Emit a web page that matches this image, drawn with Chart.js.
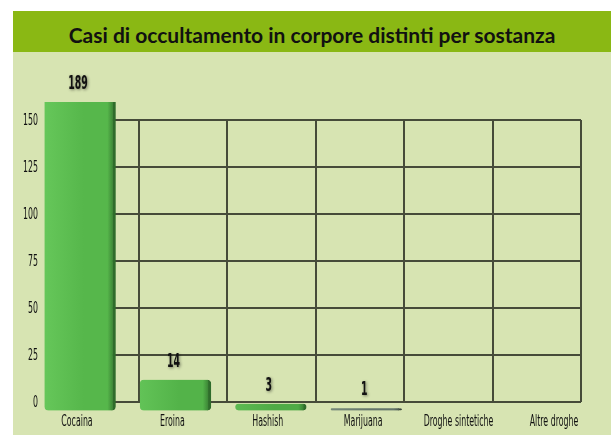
<!DOCTYPE html>
<html>
<head>
<meta charset="utf-8">
<script src="https://cdn.jsdelivr.net/npm/chart.js@4.4.1/dist/chart.umd.min.js"></script>
<style>
  html, body { margin: 0; padding: 0; background: #ffffff; }
  #wrap { position: relative; width: 611px; height: 435px; overflow: hidden; }
  #panel { position: absolute; left: 13px; top: 11px; width: 598px; height: 424px; background: #d7e4b2; }
  #title { position: absolute; left: 13px; top: 11px; width: 598px; height: 41px; background: #8ab814;
           font-family: Lato, 'Open Sans', sans-serif; font-weight: bold; font-size: 21px; color: #111;
           text-align: center; line-height: 41px; padding-top: 3px; box-sizing: border-box; white-space: nowrap; }
  #c { position: absolute; left: 0; top: 0; }
</style>
</head>
<body>
<div id="wrap">
  <div id="panel"></div>
  <div id="title">Casi di occultamento in corpore distinti per sostanza</div>
  <canvas id="c" width="611" height="435"></canvas>
</div>
<script>
const categories = ['Cocaina', 'Eroina', 'Hashish', 'Marijuana', 'Droghe sintetiche', 'Altre droghe'];
const values = [189, 14, 3, 1, 0, 0];
const yTicks = [0, 25, 50, 75, 100, 125, 150];
const gridColumns = [0, 1, 2, 3, 4, 5, 6];
const barLightColors = ['#66c75a', '#62c357', '#5cbb52', '#75887a', '#62c357', '#62c357'];
const barColors = ['#56b74b', '#53b349', '#4fab46', '#63756a', '#53b349', '#53b349'];
const barEdgeColors = ['#2f6c2b', '#2f6c2b', '#2f6c2b', '#39463b', '#2f6c2b', '#2f6c2b'];

const condensed = "'DejaVu Sans Condensed', 'DejaVu Sans', sans-serif";

// draws text squeezed horizontally to mimic the very narrow face of the original
function squeezedText(ctx, text, x, y, sx) {
  ctx.save();
  ctx.translate(x, y);
  ctx.scale(sx, 1);
  ctx.fillText(text, 0, 0);
  ctx.restore();
}

const narrowLabels = {
  id: 'narrowLabels',
  afterDraw(chart) {
    const ctx = chart.ctx;
    const xs = chart.scales.x, ys = chart.scales.y;
    ctx.save();
    ctx.fillStyle = '#111';
    ctx.textBaseline = 'middle';
    ctx.font = '16px ' + condensed;
    ctx.textAlign = 'center';
    xs.ticks.forEach(t => {
      squeezedText(ctx, categories[t.value], xs.getPixelForValue(t.value) - 3, xs.top + 19.5, 0.545);
    });
    ctx.textAlign = 'right';
    ys.ticks.forEach(t => {
      squeezedText(ctx, String(t.value), ys.right - 12, ys.getPixelForValue(t.value) + 1, 0.545);
    });
    ctx.restore();
  }
};

const valueLabels = {
  id: 'valueLabels',
  afterDatasetsDraw(chart) {
    const ctx = chart.ctx;
    const meta = chart.getDatasetMeta(0);
    const area = chart.chartArea;
    ctx.save();
    ctx.font = 'bold 20px ' + condensed;
    ctx.textAlign = 'center';
    ctx.textBaseline = 'middle';
    ctx.fillStyle = '#111';
    ctx.shadowColor = 'rgba(0,0,0,0.45)';
    ctx.shadowBlur = 3;
    ctx.shadowOffsetX = 1;
    ctx.shadowOffsetY = 1;
    meta.data.forEach((el, i) => {
      const v = values[i];
      if (!v) return;
      const top = Math.max(el.y, area.top - 18);
      squeezedText(ctx, String(v), el.x - 2, top - 18, 0.52);
    });
    ctx.restore();
  }
};

function barFill(c) {
  const i = c.dataIndex;
  const xs = c.chart.scales && c.chart.scales.x;
  if (c.type !== 'data' || !xs || !isFinite(xs.getPixelForValue(i))) return barColors[i];
  const cx = xs.getPixelForValue(i);
  const g = c.chart.ctx.createLinearGradient(cx - 36, 0, cx + 36, 0);
  g.addColorStop(0, barLightColors[i]);
  g.addColorStop(0.55, barColors[i]);
  g.addColorStop(0.88, barColors[i]);
  g.addColorStop(1, barEdgeColors[i]);
  return g;
}

new Chart(document.getElementById('c'), {
  type: 'bar',
  data: {
    datasets: [{
      data: categories.map((c, i) => ({ x: i, y: values[i] })),
      xAxisID: 'x',
      yAxisID: 'yb',
      backgroundColor: barFill,
      borderColor: barEdgeColors,
      borderWidth: { top: 0, right: 3, bottom: 0, left: 0 },
      borderSkipped: false,
      borderRadius: 4,
      barThickness: 71,
      clip: { left: 10, top: 18, right: 0, bottom: 10 }
    }]
  },
  options: {
    responsive: false,
    animation: false,
    devicePixelRatio: 1,
    layout: { padding: { top: 120, right: 30, bottom: 0, left: 0 } },
    plugins: { legend: { display: false }, title: { display: false }, tooltip: { enabled: false } },
    scales: {
      x: {
        type: 'linear',
        axis: 'x',
        position: 'bottom',
        offset: false,
        min: -0.3145,
        max: 5.252,
        afterBuildTicks: (s) => { s.ticks = categories.map((c, i) => ({ value: i })); },
        afterFit: (s) => { s.height = 33; },
        ticks: { display: false, autoSkip: false, maxRotation: 0, minRotation: 0 },
        grid: { display: false, offset: false, drawTicks: false },
        border: { display: false }
      },
      x2: {
        type: 'linear',
        axis: 'x',
        position: 'top',
        offset: false,
        min: 0,
        max: 6,
        afterBuildTicks: (s) => { s.ticks = gridColumns.map(v => ({ value: v })); },
        afterFit: (s) => { s.height = 0; },
        ticks: { display: false },
        grid: { color: '#464b39', lineWidth: 2, drawTicks: false, offset: false },
        border: { display: false }
      },
      y: {
        type: 'linear',
        axis: 'y',
        position: 'left',
        min: 0,
        max: 150,
        afterBuildTicks: (s) => { s.ticks = yTicks.map(v => ({ value: v })); },
        afterFit: (s) => { s.width = 50; },
        ticks: { display: false },
        grid: { color: '#464b39', lineWidth: 2, drawTicks: false },
        border: { display: false }
      },
      yb: {
        type: 'linear',
        axis: 'y',
        position: 'right',
        display: false,
        min: 3.84,
        max: 132.7
      }
    }
  },
  plugins: [valueLabels, narrowLabels]
});
</script>
</body>
</html>
